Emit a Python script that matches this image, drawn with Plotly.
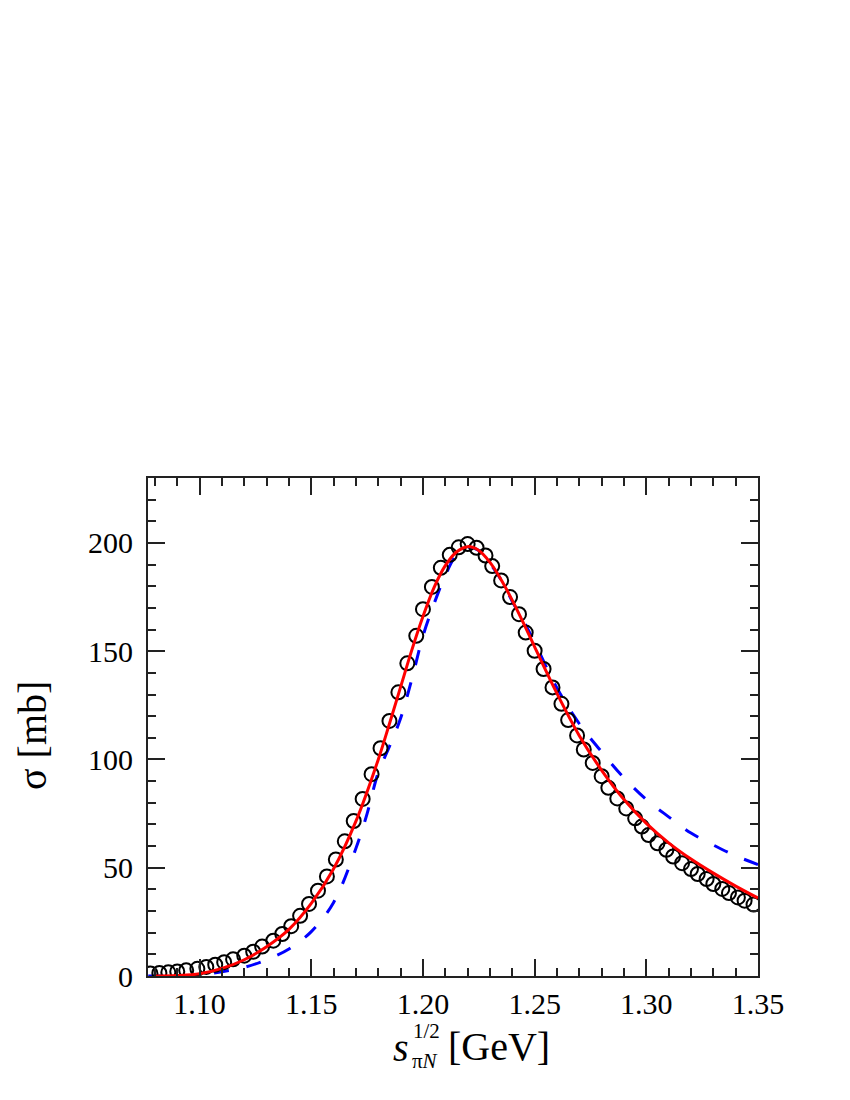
import plotly.graph_objects as go

# data points (open circles)
data_x = [1.078, 1.082, 1.086, 1.090, 1.094, 1.099, 1.103, 1.107, 1.111, 1.115,
          1.120, 1.124, 1.128, 1.133, 1.137, 1.141, 1.145, 1.149, 1.153, 1.157,
          1.161, 1.165, 1.169, 1.173, 1.177, 1.181, 1.185, 1.189, 1.193, 1.197,
          1.200, 1.204, 1.208, 1.212, 1.216, 1.220, 1.224, 1.228, 1.231, 1.235,
          1.239, 1.243, 1.246, 1.250, 1.254, 1.258, 1.262, 1.265, 1.269, 1.272,
          1.276, 1.280, 1.283, 1.287, 1.291, 1.295, 1.298, 1.301, 1.305, 1.309,
          1.312, 1.316, 1.320, 1.323, 1.327, 1.330, 1.334, 1.337, 1.341, 1.344,
          1.348]
data_y = [1.2, 1.4, 1.7, 2.1, 2.6, 3.3, 4.2, 5.2, 6.4, 7.7,
          9.4, 11.2, 13.6, 16.3, 19.4, 23.0, 27.8, 33.3, 39.4, 46.0,
          53.8, 62.2, 71.6, 81.8, 93.2, 105.2, 117.8, 131.0, 144.4, 157.1,
          169.4, 179.7, 188.5, 194.5, 198.0, 199.5, 197.8, 194.2, 189.3, 182.7,
          175.0, 167.1, 158.6, 150.2, 141.8, 133.3, 125.7, 118.2, 111.1, 104.6,
          98.4, 92.3, 86.9, 82.0, 77.4, 72.8, 69.0, 65.1, 61.3, 58.3,
          55.2, 52.1, 49.4, 47.1, 44.8, 42.5, 40.2, 38.3, 36.3, 34.8,
          33.0]

# full model (red solid)
red_x = [1.080, 1.090, 1.100, 1.110, 1.120, 1.130, 1.140, 1.150, 1.160, 1.170,
         1.180, 1.185, 1.190, 1.195, 1.200, 1.205, 1.210, 1.215, 1.220, 1.225,
         1.230, 1.235, 1.240, 1.245, 1.250, 1.260, 1.270, 1.280, 1.290, 1.300,
         1.310, 1.320, 1.330, 1.340, 1.350]
red_y = [0.0, 0.2, 1.0, 3.5, 7.5, 13.5, 21.5, 33.5, 49.5, 71.5,
         100.0, 116.5, 133.5, 150.5, 166.0, 179.5, 189.5, 195.8, 198.3, 196.5,
         191.0, 183.0, 173.5, 163.0, 152.0, 130.5, 111.0, 95.0, 81.5, 70.5,
         61.5, 54.0, 47.5, 41.5, 36.0]

# second model (blue dashed)
blue_x = [1.077, 1.090, 1.100, 1.110, 1.120, 1.130, 1.140, 1.150, 1.160, 1.170,
          1.175, 1.180, 1.185, 1.190, 1.195, 1.200, 1.205, 1.210, 1.215, 1.220,
          1.225, 1.230, 1.235, 1.240, 1.245, 1.250, 1.260, 1.270, 1.280, 1.290,
          1.300, 1.310, 1.320, 1.330, 1.340, 1.350]
blue_y = [0.0, 0.0, 0.5, 2.0, 4.0, 7.5, 12.5, 20.5, 34.0, 59.0,
          75.0, 94.0, 106.0, 119.0, 137.0, 157.0, 172.0, 185.0, 194.5, 198.0,
          196.5, 190.5, 183.0, 173.0, 164.0, 154.0, 133.0, 116.5, 103.5, 91.5,
          81.5, 73.5, 66.0, 60.5, 55.5, 51.5]

x_ticks = [1.10, 1.15, 1.20, 1.25, 1.30, 1.35]
x_labels = ["1.10", "1.15", "1.20", "1.25", "1.30", "1.35"]
y_ticks = [0, 50, 100, 150, 200]

FONT = "Liberation Serif"

fig = go.Figure()
fig.add_trace(go.Scatter(x=blue_x, y=blue_y, mode="lines",
                         line=dict(color="#0000ff", width=3, dash="15px,18px", shape="spline")))
fig.add_trace(go.Scatter(x=data_x, y=data_y, mode="markers",
                         marker=dict(symbol="circle-open", size=14, color="black",
                                     line=dict(width=2))))
fig.add_trace(go.Scatter(x=red_x, y=red_y, mode="lines",
                         line=dict(color="#ff0000", width=3, shape="spline")))

axis_common = dict(showgrid=False, zeroline=False, showline=True, linecolor="#222",
                   linewidth=2, mirror="allticks", ticks="inside", ticklen=17,
                   tickwidth=1.5, tickcolor="#222",
                   tickfont=dict(family=FONT, size=30, color="black"))

fig.update_xaxes(range=[1.0769, 1.35], tickvals=x_ticks, ticktext=x_labels,
                 minor=dict(dtick=0.01, tick0=1.10, ticks="inside", ticklen=8,
                            tickwidth=1.5, tickcolor="#222"),
                 ticklabelstandoff=0, **axis_common)
fig.update_yaxes(range=[0, 230], tickvals=y_ticks,
                 minor=dict(dtick=10, tick0=0, ticks="inside", ticklen=8,
                            tickwidth=1.5, tickcolor="#222"),
                 ticklabelstandoff=7, **axis_common)

# page body margin shifts the figure by a few pixels
OFF = 7
W, H = 842, 1092
L, T = 140, 470
pw, ph = 610, 498
R, B = W - L - pw, H - T - ph


def px(sx):
    return (sx - OFF - L) / pw


def py(sy):
    return (H - B - (sy - OFF)) / ph


big = dict(family=FONT, size=40, color="black")
small = dict(family=FONT, size=21, color="black")
ann = dict(xref="paper", yref="paper", showarrow=False)
fig.add_annotation(x=px(410), y=py(1046), text="<i>s</i>", xanchor="right", yanchor="middle",
                   font=big, **ann)
fig.add_annotation(x=px(410), y=py(1030), text="1/2", xanchor="left", yanchor="middle",
                   font=small, **ann)
fig.add_annotation(x=px(409), y=py(1060), text="π<i>N</i>", xanchor="left", yanchor="middle",
                   font=small, **ann)
fig.add_annotation(x=px(445), y=py(1045), text="[GeV]", xanchor="left", yanchor="middle",
                   font=big, **ann)
fig.add_annotation(x=px(31), y=py(735), text="σ [mb]", textangle=-90,
                   xanchor="center", yanchor="middle", font=big, **ann)

fig.update_layout(width=W, height=H, showlegend=False,
                  paper_bgcolor="white", plot_bgcolor="white",
                  margin=dict(l=L, r=R, t=T, b=B))

fig.write_html("out.html")
